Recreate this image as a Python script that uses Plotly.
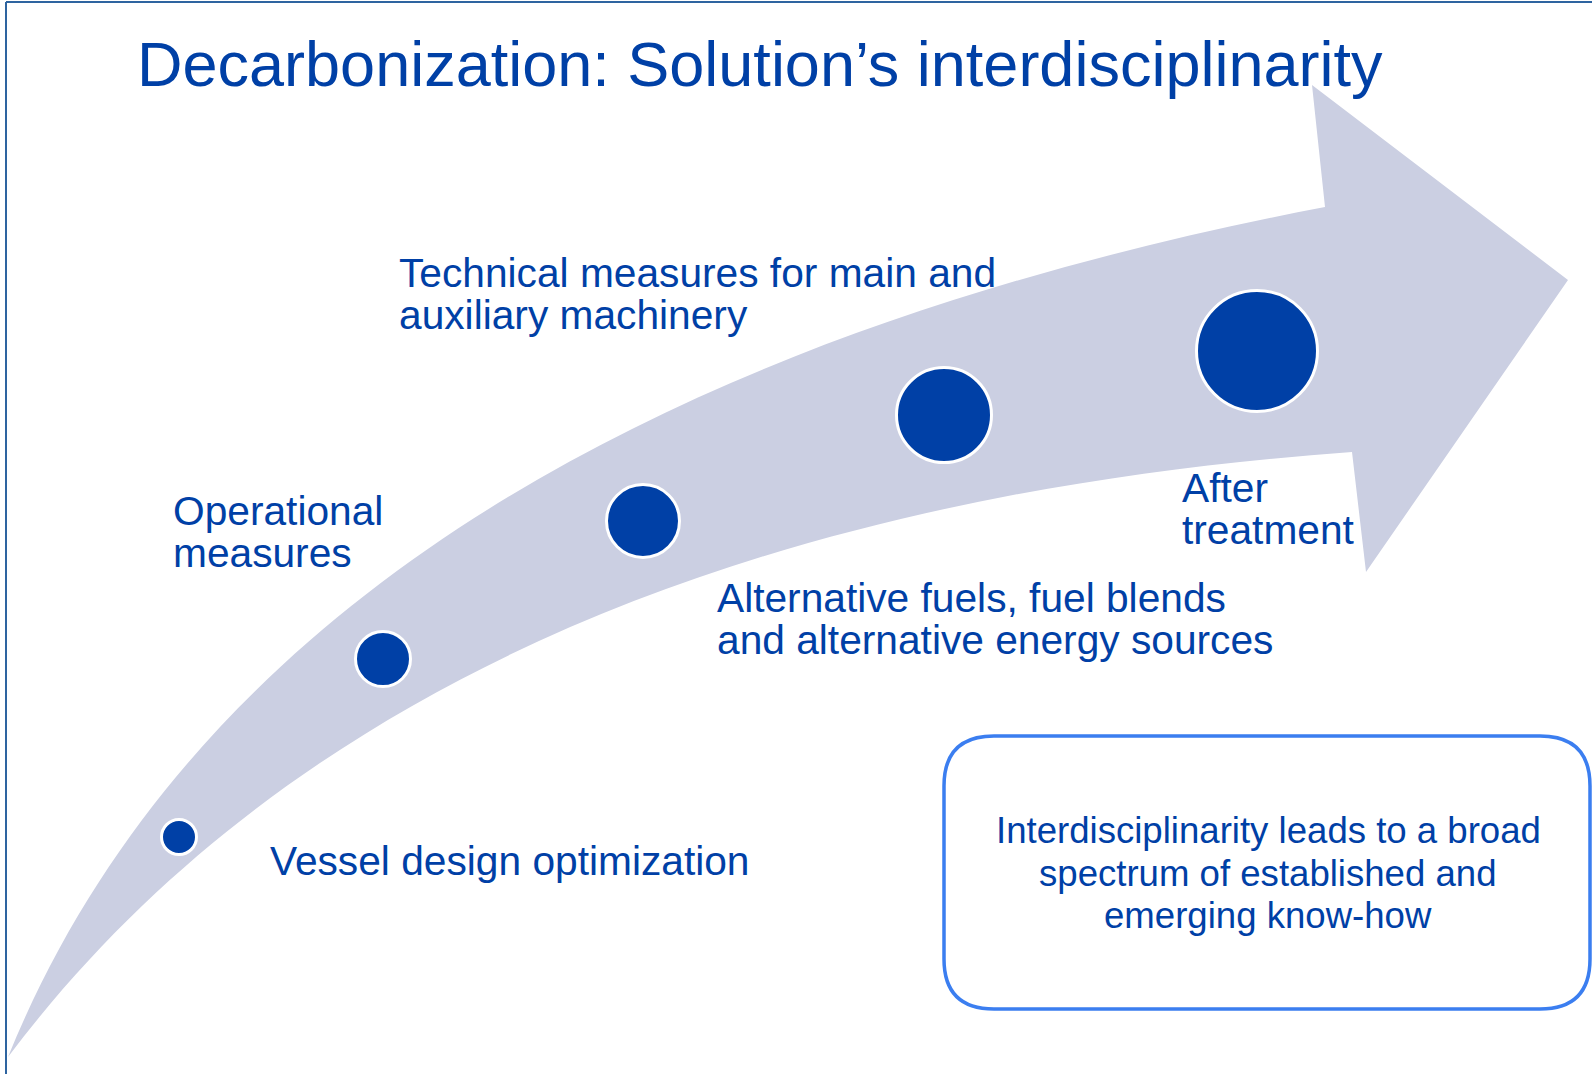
import numpy as np
import plotly.graph_objects as go

W, H = 1592, 1074

TITLE = "Decarbonization: Solution’s interdisciplinarity"

# Stage markers along the arrow (centre x, centre y in px, diameter in px)
stage_x = [179, 383, 643, 944, 1257]
stage_y = [837, 659, 521, 415, 351]
stage_size = [35, 55, 73, 95, 121]

# Stage labels (one entry per stage, split in lines)
label_lines = [
    ["Vessel design optimization"],
    ["Operational", "measures"],
    ["Alternative fuels, fuel blends", "and alternative energy sources"],
    ["Technical measures for main and", "auxiliary machinery"],
    ["After", "treatment"],
]
label_x = [268, 171, 715, 397, 1180]
label_baseline = [875, 525, 612, 287, 502]
LINE_GAP = 42

# Text of the rounded box
box_lines = ["Interdisciplinarity leads to a broad",
             "spectrum of established and",
             "emerging know-how"]
box_center_x = 1268
box_baselines = [843, 886, 928]
box_x0, box_x1, box_y0, box_y1, box_r = 944, 1590, 736, 1009, 50

# Arrow outline samples (tail -> notch along each edge)
upper_edge = [(8, 1057), (33, 993), (67, 937), (110, 867), (157, 800), (200, 750),
              (250, 697), (290, 657), (337, 617), (383, 583), (433, 547), (550, 470),
              (650, 420), (750, 373), (863, 330), (950, 300), (1083, 265),
              (1217, 233), (1325, 207)]
lower_edge = [(8, 1057), (72, 983), (145, 905), (220, 837), (270, 800), (338, 750),
              (417, 703), (483, 667), (550, 635), (650, 595), (750, 560), (850, 530),
              (950, 507), (1083, 486), (1217, 467), (1352, 452)]
arrow_head = [(1312, 85), (1568, 280), (1366, 572)]

BLUE = "#0040a6"
ARROW = "#cbcfe2"
FONT = "Liberation Sans, Arial, sans-serif"


def fit_cubic(pts):
    """Least-squares single cubic Bezier through the samples (end points fixed)."""
    P = np.array(pts, dtype=float)
    d = np.r_[0, np.cumsum(np.hypot(*np.diff(P, axis=0).T))]
    t = d / d[-1]
    P0, P3 = P[0], P[-1]
    for _ in range(6):
        b0 = (1 - t) ** 3
        b1 = 3 * (1 - t) ** 2 * t
        b2 = 3 * (1 - t) * t ** 2
        b3 = t ** 3
        A = np.c_[b1, b2]
        rhs = P - np.outer(b0, P0) - np.outer(b3, P3)
        sol, *_ = np.linalg.lstsq(A, rhs, rcond=None)
        P1, P2 = sol
        # reparametrise (one Newton step)
        B = np.outer(b0, P0) + np.outer(b1, P1) + np.outer(b2, P2) + np.outer(b3, P3)
        dB = (3 * (1 - t) ** 2)[:, None] * (P1 - P0) + (6 * (1 - t) * t)[:, None] * (P2 - P1) \
            + (3 * t ** 2)[:, None] * (P3 - P2)
        ddB = (6 * (1 - t))[:, None] * (P2 - 2 * P1 + P0) + (6 * t)[:, None] * (P3 - 2 * P2 + P1)
        diff = B - P
        num = (diff * dB).sum(1)
        den = (dB * dB).sum(1) + (diff * ddB).sum(1)
        t = np.clip(t - num / np.where(den == 0, 1, den), 0, 1)
        t[0], t[-1] = 0, 1
    return P0, P1, P2, P3


def cubic_cmd(P1, P2, P3):
    return f" C{P1[0]:.1f},{P1[1]:.1f} {P2[0]:.1f},{P2[1]:.1f} {P3[0]:.1f},{P3[1]:.1f}"


u0, u1, u2, u3 = fit_cubic(upper_edge)
l0, l1, l2, l3 = fit_cubic(lower_edge)
arrow_path = f"M{u0[0]:.1f},{u0[1]:.1f}" + cubic_cmd(u1, u2, u3)
for px, py in arrow_head:
    arrow_path += f" L{px},{py}"
arrow_path += f" L{l3[0]:.1f},{l3[1]:.1f}" + cubic_cmd(l2, l1, l0) + " Z"

r = box_r
box_path = (f"M{box_x0 + r},{box_y0} L{box_x1 - r},{box_y0} Q{box_x1},{box_y0} {box_x1},{box_y0 + r} "
            f"L{box_x1},{box_y1 - r} Q{box_x1},{box_y1} {box_x1 - r},{box_y1} "
            f"L{box_x0 + r},{box_y1} Q{box_x0},{box_y1} {box_x0},{box_y1 - r} "
            f"L{box_x0},{box_y0 + r} Q{box_x0},{box_y0} {box_x0 + r},{box_y0} Z")

fig = go.Figure()
fig.add_trace(go.Scatter(
    x=stage_x, y=stage_y, mode="markers",
    marker=dict(size=stage_size, color=BLUE, opacity=1, line=dict(color="white", width=3)),
    hoverinfo="skip", showlegend=False,
))

shapes = [
    dict(type="path", path=arrow_path, fillcolor=ARROW, line=dict(width=0), layer="below",
         xref="x", yref="y"),
    dict(type="path", path=box_path, fillcolor="rgba(0,0,0,0)",
         line=dict(color="#3b7ef0", width=3.5), layer="above", xref="x", yref="y"),
    dict(type="line", x0=6, x1=W, y0=2, y1=2, line=dict(color="#2e64a0", width=2),
         xref="x", yref="y"),
    dict(type="line", x0=6, x1=6, y0=2, y1=H, line=dict(color="#2e64a0", width=2),
         xref="x", yref="y"),
]

annotations = []
TITLE_FS = 63
annotations.append(dict(x=135, y=86 - 0.35 * TITLE_FS, text=TITLE, showarrow=False,
                        xanchor="left", yanchor="middle",
                        font=dict(family=FONT, size=TITLE_FS, color=BLUE)))
LABEL_FS = 40.7
for lines, lx, lb in zip(label_lines, label_x, label_baseline):
    for k, line in enumerate(lines):
        annotations.append(dict(x=lx, y=lb + k * LINE_GAP - 0.35 * LABEL_FS, text=line,
                                showarrow=False, xanchor="left", yanchor="middle",
                                font=dict(family=FONT, size=LABEL_FS, color=BLUE)))
BOX_FS = 36.6
for line, bb in zip(box_lines, box_baselines):
    annotations.append(dict(x=box_center_x, y=bb - 0.35 * BOX_FS, text=line, showarrow=False,
                            xanchor="center", yanchor="middle",
                            font=dict(family=FONT, size=BOX_FS, color=BLUE)))

fig.update_layout(
    width=W, height=H, margin=dict(l=0, r=0, t=0, b=0),
    paper_bgcolor="white", plot_bgcolor="white",
    xaxis=dict(range=[0, W], visible=False, fixedrange=True),
    yaxis=dict(range=[H, 0], visible=False, fixedrange=True),
    shapes=shapes, annotations=annotations, hovermode=False, showlegend=False,
)

fig.write_html("out.html", config={"displayModeBar": False},
               post_script="document.body.style.margin='0';document.body.style.overflow='hidden';")
